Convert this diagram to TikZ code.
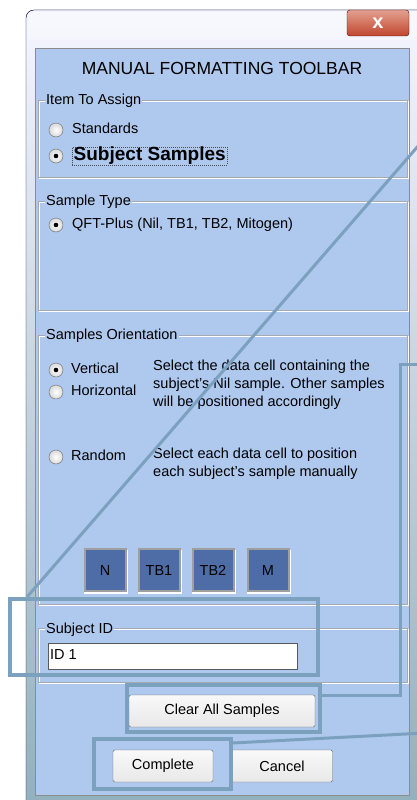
\documentclass[tikz,border=0pt]{standalone}
\usepackage{fontspec}
\setmainfont{Liberation Sans}
\definecolor{client}{HTML}{AEC8EE}
\definecolor{callc}{HTML}{7CA1BF}
\definecolor{sbtn}{HTML}{4E6CA6}
\definecolor{etch}{HTML}{A4A9B2}
\definecolor{closetop}{HTML}{E3A090}
\definecolor{closebot}{HTML}{C0462E}
\begin{document}
\begin{tikzpicture}[x=1pt,y=-1pt,
  txt/.style={font=\fontsize{14.5}{17}\selectfont, inner sep=0pt, anchor=west, text height=10.5pt, text depth=3pt},
  glabel/.style={txt, fill=client, inner xsep=1pt},
  radio/.style={circle, draw=gray!80!black, inner sep=0pt, minimum size=14pt, inner color=white, outer color=gray!30},
  sampbtn/.style={draw=gray!75, line width=2pt, fill=sbtn, minimum width=41pt, minimum height=42pt, inner sep=0pt, font=\fontsize{14.5}{17}\selectfont, text height=10.5pt, text depth=0pt},
  pushbtn/.style={draw=gray!80!black, rounded corners=1.5pt, top color=gray!5, bottom color=gray!18, inner sep=0pt, font=\fontsize{14.5}{17}\selectfont},
  callout/.style={draw=callc, line width=3.5pt},
  calline/.style={draw=callc, line width=3pt}]
\useasboundingbox (0,0) rectangle (417,800);
% window frame
\fill[rounded corners=8pt, top color=blue!4!white, bottom color=blue!30!cyan!25!gray!70] (26,10) rectangle (440,820);
\fill[white, opacity=0.35] (28,12) rectangle (430,40);
\draw[rounded corners=8pt, draw=black!70!blue] (26,10) rectangle (440,820);
% close button
\node[draw=red!30!black, rounded corners=3pt, top color=closetop, bottom color=closebot, minimum width=62pt, minimum height=26pt, inner sep=0pt, font=\bfseries\fontsize{20}{20}\selectfont, text=white] (close) at (378,23) {x};
% client area
\fill[client] (35,48) rectangle (409,795);
\draw[black!45] (35,48) rectangle (409,795);
\node[font=\fontsize{17.5}{20}\selectfont, inner sep=0pt] (title) at (222,68) {MANUAL FORMATTING TOOLBAR};
% group boxes (etched)
\foreach \t/\b in {100/177, 201/310, 335/604, 628/682} {
  \draw[white] (39,\t+1) rectangle (408,\b+1);
  \draw[etch] (38,\t) rectangle (407,\b);
}
\node[glabel] (g1) at (45,101) {Item To Assign};
\node[glabel] (g2) at (45,202) {Sample Type};
\node[glabel] (g3) at (45,336) {Samples Orientation};
\node[glabel] (g4) at (45,630) {Subject ID};
% item to assign
\node[radio] (r11) at (56,130) {};
\node[txt] (t11) at (72,130) {Standards};
\node[radio] (r12) at (56,156) {};
\fill (r12.center) circle (2.3pt);
\node[txt, font=\bfseries\fontsize{19}{22}\selectfont, text height=13.5pt, text depth=4pt, inner xsep=1.5pt, draw=black!70, dash pattern=on 1pt off 1pt] (t12) at (72,156) {Subject Samples};
% sample type
\node[radio] (r21) at (56,225) {};
\fill (r21.center) circle (2.3pt);
\node[txt] (t21) at (72,225) {QFT-Plus (Nil, TB1, TB2, Mitogen)};
% orientation
\node[radio] (r31) at (56,370) {};
\fill (r31.center) circle (2.3pt);
\node[txt] (t31) at (71,370) {Vertical};
\node[radio] (r32) at (56,392) {};
\node[txt] (t32) at (71,392) {Horizontal};
\node[radio] (r33) at (56,457) {};
\node[txt] (t33) at (71,457) {Random};
\node[txt, anchor=north west, align=left, font=\fontsize{14.5}{18}\selectfont, text height=, text depth=] (d1) at (153,360) {Select the data cell containing the\\subject's Nil sample. Other samples\\will be positioned accordingly};
\node[txt, anchor=north west, align=left, font=\fontsize{14.5}{18}\selectfont, text height=, text depth=] (d2) at (153,448) {Select each data cell to position\\each subject's sample manually};
% sample buttons
\foreach \x/\l/\n in {105/N/bn, 159/TB1/bt1, 213/TB2/bt2, 268/M/bm} {
  \fill[white] (\x-21,550) rectangle (\x+23,594);
  \node[sampbtn] (\n) at (\x,570) {\l};
}
% subject id field
\node[draw=gray!70!black, fill=white, minimum width=249pt, minimum height=26pt, inner sep=0pt, anchor=north west] (idf) at (48,643) {};
\node[txt] (idt) at (50,656) {ID 1};
% push buttons
\node[pushbtn, minimum width=186pt, minimum height=32pt] (clear) at (222,711) {Clear All Samples};
\node[pushbtn, minimum width=100pt, minimum height=32pt] (compl) at (163,766) {Complete};
\node[pushbtn, minimum width=101pt, minimum height=32pt] (cancel) at (282,766) {Cancel};
% callouts
\node[callout, minimum width=308pt, minimum height=76pt, inner sep=0pt, anchor=north west] (c1) at (8,597) {};
\node[callout, minimum width=193pt, minimum height=47pt, inner sep=0pt, anchor=north west] (c2) at (125,683) {};
\node[callout, minimum width=137pt, minimum height=50pt, inner sep=0pt, anchor=north west] (c3) at (92,737) {};
\coordinate (e1) at (432,130);
\coordinate (e2) at (425,364);
\coordinate (e3) at (425,733);
\draw[calline] ([xshift=19pt]c1.north west) -- (e1);
\draw[calline] ([yshift=-12pt]c2.north east) -- ++(79,0) |- (e2);
\draw[calline] ([yshift=-6pt]c3.north east) -- (e3);
\end{tikzpicture}
\end{document}
